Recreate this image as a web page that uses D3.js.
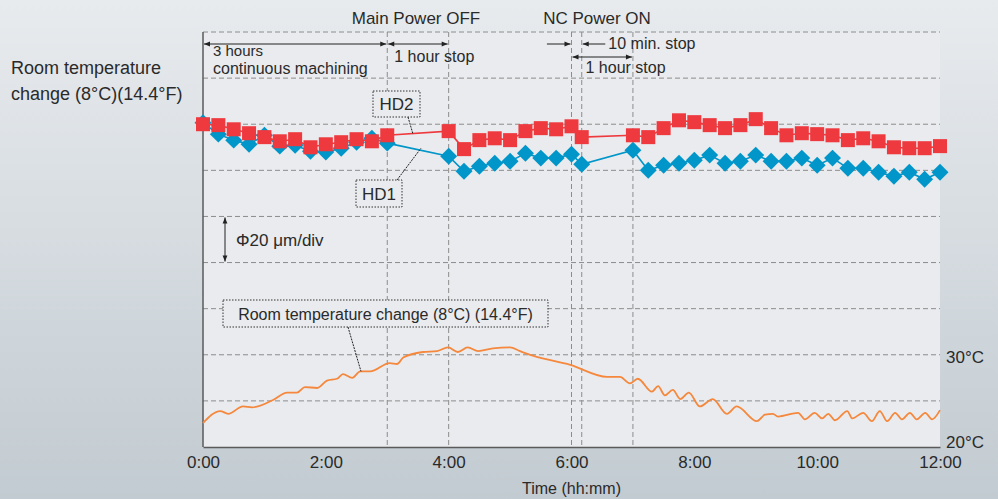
<!DOCTYPE html>
<html>
<head>
<meta charset="utf-8">
<script src="https://cdn.jsdelivr.net/npm/d3@7"></script>
<style>
  body { margin: 0; }
  svg { display: block; font-family: "Liberation Sans", Arial, sans-serif; }
</style>
</head>
<body>
<svg id="chart" width="998" height="499"></svg>
<script>
// sample times in hours
const hdTimes = [0, 0.25, 0.5, 0.75, 1, 1.25, 1.5, 1.75, 2, 2.25, 2.5, 2.75, 3,
  4, 4.25, 4.5, 4.75, 5, 5.25, 5.5, 5.75, 6, 6.1667,
  7, 7.25, 7.5, 7.75, 8, 8.25, 8.5, 8.75, 9, 9.25, 9.5, 9.75, 10, 10.25, 10.5, 10.75, 11, 11.25, 11.5, 11.75, 12]

// displacement in um
const hd2 = [0, -0.4, -2.2, -3.9, -5.6, -7.4, -6.5, -10, -8.7, -7.8, -6.5, -7.4, -4.8,
  -3, -10.8, -6.9, -6.1, -6.9, -3, -1.7, -2.2, -0.9, -5.6,
  -4.8, -5.6, -1.7, 1.7, 0.9, -0.4, -1.7, -0.4, 2.2, -1.7, -4.8, -3.9, -4.3, -4.8, -6.9, -6.1, -7.4, -10, -10.4, -10.4, -9.5]

const hd1 = [0.6, -4.3, -6.9, -8.7, -4.8, -9.5, -9.1, -11.7, -12.1, -10.4, -7.8, -6.1, -8.2,
  -13.9, -20.4, -18.2, -16.9, -16.1, -12.6, -14.7, -14.7, -13, -17.4,
  -11.3, -20, -17.8, -16.9, -15.6, -13.4, -16.9, -16.1, -13.4, -16.1, -16.1, -14.7, -17.8, -14.7, -19.1, -19.1, -20.8, -22.6, -20.8, -23.9, -20.8]

// room temperature (deg C)
const tempTimes = [0, 0.28, 0.41, 0.65, 0.8, 1.14, 1.37, 1.53, 1.66, 1.86, 2.02, 2.18, 2.28, 2.43, 2.56, 2.72,
  3.04, 3.16, 3.26, 3.58, 3.81, 3.99, 4.15, 4.31, 4.48, 4.72, 5, 5.16, 5.37, 5.98, 6.58, 6.79, 6.95,
  7.08, 7.31, 7.41, 7.52, 7.65, 7.77, 7.91, 8.09, 8.3, 8.53, 8.69, 9.02, 9.15, 9.28, 9.36, 9.69, 9.8,
  9.96, 10.08, 10.18, 10.29, 10.49, 10.57, 10.75, 10.89, 11.02, 11.14, 11.27, 11.38, 11.51, 11.62, 11.76, 11.87, 12]
const tempValues = [22.6, 23.9, 23.6, 24.4, 24.3, 25.1, 25.9, 25.9, 26.5, 26.4, 27.2, 27.4, 27.9, 27.5, 28.2, 28.2,
  29.1, 29.0, 29.7, 30.3, 30.4, 30.8, 30.3, 30.8, 30.4, 30.7, 30.8, 30.4, 29.9, 28.9, 27.6, 27.6, 26.9,
  27.4, 26.0, 26.6, 25.6, 26.2, 25.2, 25.9, 24.4, 25.2, 23.6, 24.4, 22.8, 23.5, 23.6, 23.3, 23.7, 23.0,
  23.7, 23.1, 23.6, 22.9, 23.9, 23.1, 23.7, 22.8, 23.9, 22.8, 23.7, 23.0, 23.7, 23.0, 23.7, 23.0, 24.0]

const xTicks = [0, 2, 4, 6, 8, 10, 12]
const xTickLabels = ['0:00', '2:00', '4:00', '6:00', '8:00', '10:00', '12:00']
const eventTimes = [3, 4, 6, 6.1667, 7]
const tempTicks = [20, 30]

const svg = d3.select('#chart')
const width = 998, height = 499
const margin = {top: 32, bottom: 52, left: 203, right: 58}

const x = d3.scaleLinear().domain([0, 12]).range([margin.left, width - margin.right])
const yUm = d3.scaleLinear().domain([-140, 40]).range([height - margin.bottom, margin.top])
const yT = d3.scaleLinear().domain([20, 65]).range([height - margin.bottom, margin.top])

const defs = svg.append('defs')
const grad = defs.append('linearGradient').attr('id', 'bg').attr('x1', 0).attr('y1', 0).attr('x2', 0).attr('y2', 1)
grad.append('stop').attr('offset', '0%').attr('stop-color', '#e8ebee')
grad.append('stop').attr('offset', '100%').attr('stop-color', '#c2cbd1')

;['arrowEnd', 'arrowStart'].forEach((id, i) => {
  defs.append('marker')
    .attr('id', id)
    .attr('viewBox', '0 0 10 10')
    .attr('refX', i === 0 ? 10 : 0).attr('refY', 5)
    .attr('markerWidth', 8).attr('markerHeight', 6)
    .attr('markerUnits', 'userSpaceOnUse')
    .attr('orient', 'auto')
    .append('path')
    .attr('d', i === 0 ? 'M0,1L10,5L0,9Z' : 'M10,1L0,5L10,9Z')
    .attr('fill', '#222')
})

svg.append('rect').attr('width', width).attr('height', height).attr('fill', 'url(#bg)')

const [x0, x1] = x.range()
const [yb, yt] = yUm.range()

svg.append('rect')
  .attr('x', x0).attr('y', yt)
  .attr('width', x1 - x0).attr('height', yb - yt)
  .attr('fill', '#e9ebee')

// horizontal grid, one per 20 um
const grid = svg.append('g')
grid.selectAll('line.h')
  .data(d3.range(-120, 41, 20))
  .join('line')
  .attr('class', 'h')
  .attr('x1', x0).attr('x2', x1)
  .attr('y1', d => yUm(d)).attr('y2', d => yUm(d))
  .attr('stroke', '#8c8c8c')
  .attr('stroke-dasharray', '5,3')

grid.selectAll('line.v')
  .data(eventTimes)
  .join('line')
  .attr('class', 'v')
  .attr('x1', d => x(d)).attr('x2', d => x(d))
  .attr('y1', yt).attr('y2', yb)
  .attr('stroke', '#8c8c8c')
  .attr('stroke-dasharray', '5,3')

// axes
svg.append('line')
  .attr('x1', x0).attr('x2', x0).attr('y1', yt).attr('y2', yb)
  .attr('stroke', '#5a5a5a').attr('stroke-width', 1.5)

const xAxis = svg.append('g')
  .attr('transform', `translate(0, ${yb})`)
  .call(d3.axisBottom(x).tickValues(xTicks).tickSize(0).tickPadding(9)
    .tickFormat((d, i) => xTickLabels[i]))
xAxis.select('.domain').attr('stroke', '#5a5a5a').attr('stroke-width', 1.5)
xAxis.selectAll('text')
  .attr('font-size', 17).attr('fill', '#2a2a2a')
  .attr('font-family', '"Liberation Sans", Arial, sans-serif')

svg.append('text')
  .attr('x', x(6)).attr('y', 494)
  .attr('text-anchor', 'middle')
  .attr('font-size', 16).attr('fill', '#2a2a2a')
  .text('Time (hh:mm)')

svg.selectAll('text.tlabel')
  .data(tempTicks)
  .join('text')
  .attr('class', 'tlabel')
  .attr('x', x1 + 6)
  .attr('y', d => d === 20 ? yT(d) + 1 : yT(d) + 8)
  .attr('font-size', 17).attr('fill', '#2a2a2a')
  .text(d => `${d}°C`)

// left label
svg.append('text')
  .attr('x', 11).attr('y', 74)
  .attr('font-size', 18).attr('fill', '#2a2a2a')
  .text('Room temperature')
svg.append('text')
  .attr('x', 11).attr('y', 100)
  .attr('font-size', 18).attr('fill', '#2a2a2a')
  .text('change (8°C)(14.4°F)')

// top labels
svg.append('text')
  .attr('x', 416).attr('y', 24)
  .attr('text-anchor', 'middle')
  .attr('font-size', 17).attr('fill', '#2a2a2a')
  .text('Main Power OFF')
svg.append('text')
  .attr('x', 597).attr('y', 24)
  .attr('text-anchor', 'middle')
  .attr('font-size', 17).attr('fill', '#2a2a2a')
  .text('NC Power ON')

const arrow = (xa, ya, xb, yb2) => {
  svg.append('line')
    .attr('x1', xa).attr('x2', xb).attr('y1', ya).attr('y2', yb2)
    .attr('stroke', '#222').attr('stroke-width', 1)
    .attr('marker-end', 'url(#arrowEnd)')
}
const dblArrow = (xa, ya, xb, yb2) => {
  svg.append('line')
    .attr('x1', xa).attr('x2', xb).attr('y1', ya).attr('y2', yb2)
    .attr('stroke', '#222').attr('stroke-width', 1)
    .attr('marker-start', 'url(#arrowStart)')
    .attr('marker-end', 'url(#arrowEnd)')
}
const note = (xp, y, txt, size) => {
  svg.append('text')
    .attr('x', xp).attr('y', y)
    .attr('font-size', size || 16).attr('fill', '#2a2a2a')
    .text(txt)
}

dblArrow(x(0) + 1, 44, x(3) - 1, 44)
dblArrow(x(3) + 1, 44, x(4) - 1, 44)
arrow(x(5.6), 44, x(6) - 1, 44)
arrow(x(6.55), 44, x(6.1667) + 1, 44)
dblArrow(x(6) + 1, 57, x(7) - 1, 57)

note(x(0) + 10, 56, '3 hours', 15)
note(x(0) + 10, 74, 'continuous machining', 16)
note(x(3) + 7, 62, '1 hour stop')
note(x(6.6), 49, '10 min. stop')
note(x(6) + 14, 73, '1 hour stop')

// Phi 20 um/div
dblArrow(225, yUm(-40) + 1, 225, yUm(-60) - 1)
note(236, 246, 'Φ20 μm/div', 17)

// temperature line
const tempLine = d3.line()
  .x(d => x(d[0]))
  .y(d => yT(d[1]))
  .curve(d3.curveMonotoneX)

svg.append('path')
  .datum(tempTimes.map((t, i) => [t, tempValues[i]]))
  .attr('fill', 'none')
  .attr('stroke', '#f5883c')
  .attr('stroke-width', 1.8)
  .attr('d', tempLine)

// HD series
const hdLine = vals => d3.line()
  .x((d, i) => x(hdTimes[i]))
  .y(d => yUm(d))(vals)

svg.append('path')
  .attr('d', hdLine(hd1))
  .attr('fill', 'none').attr('stroke', '#0096c9').attr('stroke-width', 1.6)
svg.append('path')
  .attr('d', hdLine(hd2))
  .attr('fill', 'none').attr('stroke', '#ee3a3f').attr('stroke-width', 1.6)

svg.append('g').selectAll('rect')
  .data(hd1)
  .join('rect')
  .attr('x', -6).attr('y', -6)
  .attr('width', 12).attr('height', 12)
  .attr('transform', (d, i) => `translate(${x(hdTimes[i])}, ${yUm(d)}) rotate(45)`)
  .attr('fill', '#0096c9')

svg.append('g').selectAll('rect')
  .data(hd2)
  .join('rect')
  .attr('x', (d, i) => x(hdTimes[i]) - 7)
  .attr('y', d => yUm(d) - 7)
  .attr('width', 14).attr('height', 14)
  .attr('fill', '#ee3a3f')

// callout boxes
const callout = (bx, by, bw, bh, txt, size, lx0, ly0, lx1, ly1) => {
  svg.append('line')
    .attr('x1', lx0).attr('y1', ly0).attr('x2', lx1).attr('y2', ly1)
    .attr('stroke', '#222').attr('stroke-width', 1)
    .attr('stroke-dasharray', '2,1')
  svg.append('rect')
    .attr('x', bx).attr('y', by).attr('width', bw).attr('height', bh)
    .attr('fill', '#e9ebee')
    .attr('stroke', '#333').attr('stroke-width', 1)
    .attr('stroke-dasharray', '1.5,1.5')
  svg.append('text')
    .attr('x', bx + bw / 2).attr('y', by + bh / 2 + 6)
    .attr('text-anchor', 'middle')
    .attr('font-size', size).attr('fill', '#2a2a2a')
    .text(txt)
}

callout(373, 91, 47, 26, 'HD2', 17, 408, 117, 413, yUm(-4.3))
callout(356, 180, 46, 27, 'HD1', 17, 397, 180, 421, yUm(-10.4))
callout(223, 300, 325, 27, 'Room temperature change (8°C) (14.4°F)', 16, 348, 327, 361, yT(28.2))
</script>
</body>
</html>
